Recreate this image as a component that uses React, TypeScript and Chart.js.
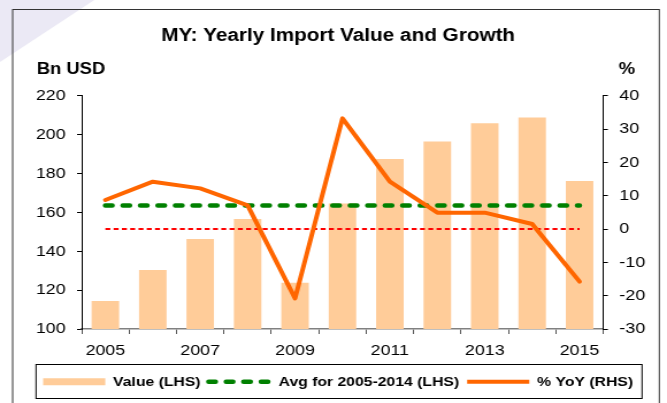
import { useEffect, useRef } from 'react';
import { Chart, registerables } from 'chart.js';

Chart.register(...registerables);

// ---------- data ----------
const categories = ['2005', '2006', '2007', '2008', '2009', '2010', '2011', '2012', '2013', '2014', '2015'];
const xTickLabels = ['2005', '', '2007', '', '2009', '', '2011', '', '2013', '', '2015'];
const importValue = [114.4, 130.3, 146.3, 156.6, 123.8, 164.6, 187.4, 196.5, 205.8, 208.8, 176.1];
const yoyGrowth = [8.7, 14.2, 12.2, 7.1, -20.8, 33.2, 14.2, 4.9, 4.9, 1.5, -15.8];
const avg2005to2014 = [163.5, 163.5, 163.5, 163.5, 163.5, 163.5, 163.5, 163.5, 163.5, 163.5, 163.5];
const zeroLine = [0, 0, 0, 0, 0, 0, 0, 0, 0, 0, 0];
const leftAxisTicks = [100, 120, 140, 160, 180, 200, 220];
const rightAxisTicks = [-30, -20, -10, 0, 10, 20, 30, 40];

const TITLE = 'MY: Yearly Import Value and Growth';
const LEFT_UNIT = 'Bn USD';
const RIGHT_UNIT = '%';

// ---------- styling ----------
const FONT = "'Liberation Sans', Arial, Helvetica, sans-serif";
const CANVAS_W = 580; // drawn narrower, then stretched to 667 css px
const CANVAS_H = 403;
const PEACH = '#FFCC99';
const ORANGE = '#FF6600';
const GREEN = '#008000';
const RED = '#FF0000';

const decorPlugin = {
  id: 'decor',
  beforeDraw(chart: any) {
    const ctx = chart.ctx;
    ctx.save();
    ctx.fillStyle = '#FFFFFF';
    ctx.fillRect(0, 0, chart.width, chart.height);
    ctx.fillStyle = 'rgba(228,226,242,0.75)';
    ctx.beginPath();
    ctx.moveTo(0, 0);
    ctx.lineTo(82, 0);
    ctx.lineTo(0, 62);
    ctx.closePath();
    ctx.fill();
    ctx.strokeStyle = '#333333';
    ctx.lineWidth = 1;
    ctx.strokeRect(11, 9.5, 562.3, 420);
    ctx.restore();
  },
  afterDraw(chart: any) {
    const ctx = chart.ctx;
    ctx.save();
    ctx.fillStyle = '#000000';
    ctx.font = `bold 16px ${FONT}`;
    ctx.textBaseline = 'middle';
    ctx.textAlign = 'left';
    ctx.fillText(LEFT_UNIT, 31.9, 70);
    ctx.fillText(RIGHT_UNIT, 538, 70);
    ctx.strokeStyle = '#000000';
    ctx.lineWidth = 1;
    ctx.strokeRect(31.3, 364.5, 527, 34);
    ctx.restore();
  },
};

const legendStyles: Record<number, any> = {
  0: { strokeStyle: PEACH, lineWidth: 7, lineDash: [], lineCap: 'butt' },
  1: { strokeStyle: GREEN, lineWidth: 4.5, lineDash: [6, 9.2], lineCap: 'round' },
  2: { strokeStyle: ORANGE, lineWidth: 4, lineDash: [], lineCap: 'butt' },
};

export default function App() {
  const ref = useRef<HTMLCanvasElement | null>(null);

  useEffect(() => {
    if (!ref.current) return;
    const chart = new Chart(ref.current, {
      type: 'bar',
      data: {
        labels: categories,
        datasets: [
          {
            type: 'bar',
            label: 'Value (LHS)',
            data: importValue,
            backgroundColor: PEACH,
            borderWidth: 0,
            barPercentage: 0.58,
            categoryPercentage: 1,
            yAxisID: 'y',
            order: 4,
          } as any,
          {
            type: 'line',
            label: 'Avg for 2005-2014 (LHS)',
            data: avg2005to2014,
            borderColor: GREEN,
            borderWidth: 4.5,
            borderDash: [6, 9.2],
            borderCapStyle: 'round',
            pointRadius: 0,
            fill: false,
            yAxisID: 'y',
            order: 2,
          },
          {
            type: 'line',
            label: '% YoY (RHS)',
            data: yoyGrowth,
            borderColor: ORANGE,
            borderWidth: 4,
            borderJoinStyle: 'round',
            borderCapStyle: 'round',
            pointRadius: 0,
            tension: 0,
            fill: false,
            yAxisID: 'y1',
            order: 1,
          },
          {
            type: 'line',
            label: 'zero',
            data: zeroLine,
            borderColor: RED,
            borderWidth: 2,
            borderDash: [4.3, 2.9],
            pointRadius: 0,
            fill: false,
            yAxisID: 'y1',
            order: 3,
          },
        ],
      },
      options: {
        responsive: false,
        animation: false,
        devicePixelRatio: 1,
        events: [],
        layout: { padding: { left: 12, right: 4, top: 0, bottom: 4.3 } },
        scales: {
          x: {
            offset: true,
            grid: { drawOnChartArea: false, drawTicks: true, tickLength: 5, color: '#555555', offset: true },
            border: { display: true, color: '#808080', width: 1.5 },
            ticks: {
              autoSkip: false,
              maxRotation: 0,
              padding: 7,
              color: '#000000',
              font: { family: FONT, size: 15.5 },
              callback: (_v: any, i: number) => xTickLabels[i],
            },
            afterFit: (s: any) => { s.height = 39; },
          },
          y: {
            position: 'left',
            min: leftAxisTicks[0],
            max: leftAxisTicks[leftAxisTicks.length - 1],
            grid: { drawOnChartArea: false, drawTicks: true, tickLength: 4, color: '#000000' },
            border: { display: true, color: '#000000', width: 1 },
            ticks: {
              stepSize: leftAxisTicks[1] - leftAxisTicks[0],
              padding: 10,
              color: '#000000',
              font: { family: FONT, size: 15.5 },
            },
            afterFit: (s: any) => { s.width = 59; },
          },
          y1: {
            position: 'right',
            min: rightAxisTicks[0],
            max: rightAxisTicks[rightAxisTicks.length - 1],
            grid: { drawOnChartArea: false, drawTicks: true, tickLength: 4, color: '#000000' },
            border: { display: true, color: '#000000', width: 1 },
            ticks: {
              stepSize: rightAxisTicks[1] - rightAxisTicks[0],
              padding: 10,
              color: '#000000',
              font: { family: FONT, size: 15.5 },
            },
            afterFit: (s: any) => { s.width = 51.4; },
          },
        },
        plugins: {
          tooltip: { enabled: false },
          title: {
            display: true,
            text: TITLE,
            color: '#000000',
            font: { family: FONT, size: 18, weight: 'bold' },
            padding: { top: 25.6, bottom: 48.5 },
          },
          legend: {
            display: true,
            position: 'bottom',
            labels: {
              usePointStyle: true,
              pointStyleWidth: 54,
              boxWidth: 54,
              padding: 7,
              color: '#000000',
              font: { family: FONT, size: 13.7, weight: 'bold' },
              generateLabels: (c: any) =>
                c.data.datasets
                  .map((ds: any, i: number) => ({
                    text: ds.label,
                    datasetIndex: i,
                    hidden: false,
                    pointStyle: 'line',
                    fillStyle: 'rgba(0,0,0,0)',
                    fontColor: '#000000',
                    ...(legendStyles[i] || {}),
                  }))
                  .filter((it: any) => legendStyles[it.datasetIndex] !== undefined),
            },
          },
        },
      },
      plugins: [decorPlugin],
    } as any);
    return () => chart.destroy();
  }, []);

  return (
    <div style={{ position: 'absolute', left: 0, top: 0, width: 667, height: CANVAS_H }}>
      <canvas
        ref={ref}
        width={CANVAS_W}
        height={CANVAS_H}
        style={{ width: '667px', height: `${CANVAS_H}px`, display: 'block' }}
      />
    </div>
  );
}
